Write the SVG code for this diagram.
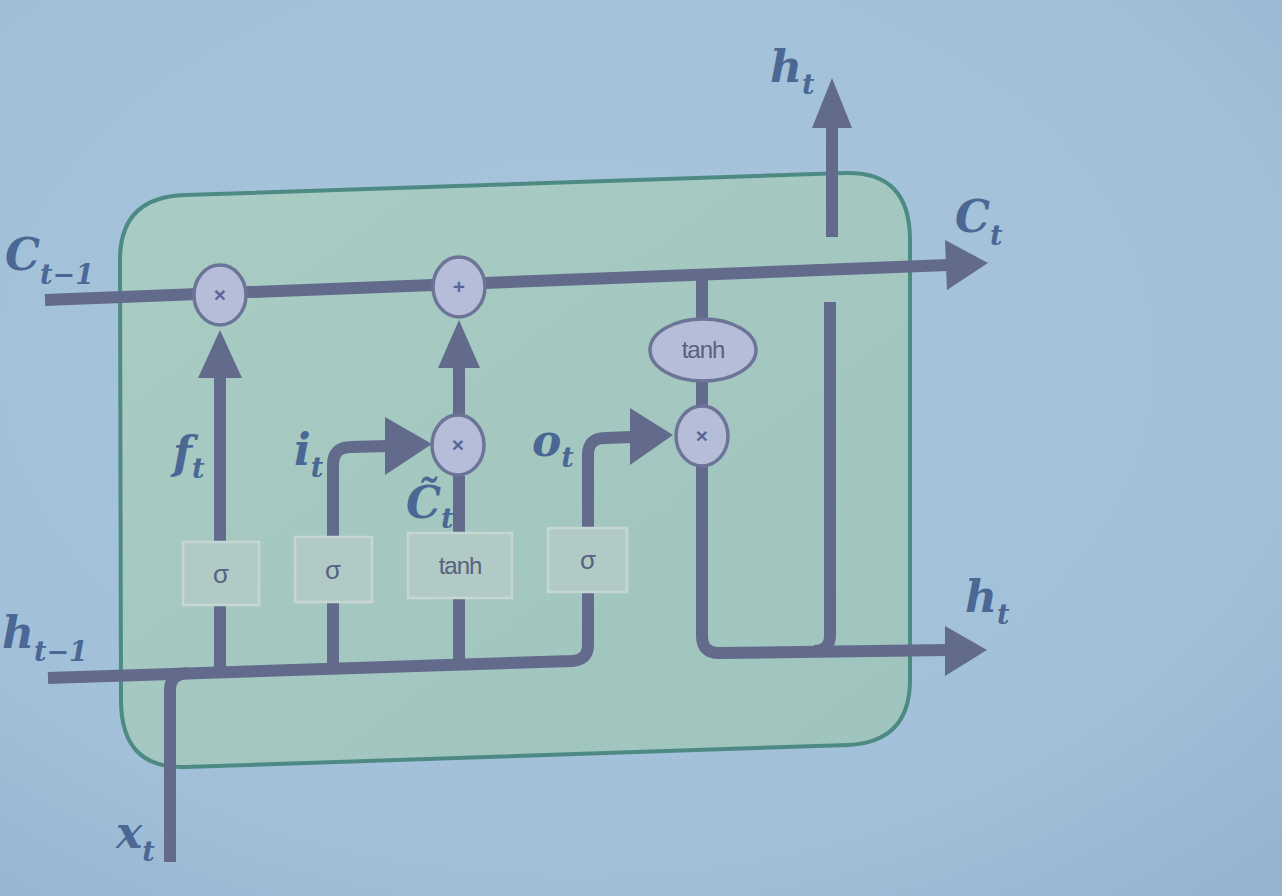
<svg xmlns="http://www.w3.org/2000/svg" width="1282" height="896" viewBox="0 0 1282 896">
<defs>
<radialGradient id="bg" cx="0.45" cy="0.4" r="0.8">
<stop offset="0" stop-color="#a8c5dc"/>
<stop offset="0.7" stop-color="#a2c0d9"/>
<stop offset="1" stop-color="#95b2cf"/>
</radialGradient>
<linearGradient id="cell" x1="0" y1="0" x2="1" y2="1">
<stop offset="0" stop-color="#a9ccc3"/>
<stop offset="1" stop-color="#9fc4be"/>
</linearGradient>
<style>
.ln{fill:none;stroke:#636b8c;stroke-width:12;stroke-linecap:butt;stroke-linejoin:round}
.ah{fill:#636b8c}
.op{fill:#b5bdd8;stroke:#6c7597;stroke-width:3.5}
.op-t{font-family:"Liberation Sans",Arial,sans-serif;font-size:21px;font-weight:bold;fill:#5a6699;text-anchor:middle}
.gate{fill:#b2cac6;stroke:#c6d6d3;stroke-width:2.5}
.gate-t{font-family:"Liberation Sans",Arial,sans-serif;font-size:26px;fill:#58627f;text-anchor:middle}
.tanh-t{font-family:"Liberation Sans",Arial,sans-serif;font-size:24px;fill:#58627f;text-anchor:middle;letter-spacing:-1px}
.lbl{font-family:"DejaVu Serif","Liberation Serif",serif;font-style:italic;font-weight:bold;font-size:44px;fill:#4b6894}
.sub{font-size:27px}
</style>
</defs>
<rect width="1282" height="896" fill="url(#bg)"/>

<g id="cell-box">
<path d="M185,195 L845,173 Q910,171 910,240 L910,680 Q910,742 848,745 L185,767 Q121,769 121,700 L120,262 Q119,197 185,195 Z" fill="url(#cell)" stroke="#4e8a84" stroke-width="4"/>
</g>

<g id="connectors">
<path class="ln" d="M45,300 L948,265"/>
<polygon class="ah" points="945,240 988,263 947,290"/>
<path class="ln" d="M48,678 L572,661 Q588,660 588,645 L588,592"/>
<path class="ln" d="M170,862 L170,690 Q170,674 188,673"/>
<path class="ln" d="M220,672 L220,605"/>
<path class="ln" d="M220,542 L220,374"/>
<polygon class="ah" points="198,378 220,330 242,378"/>
<path class="ln" d="M333,669 L333,602"/>
<path class="ln" d="M333,537 L333,465 Q333,447 351,447 L388,446"/>
<polygon class="ah" points="385,417 432,444 385,475"/>
<path class="ln" d="M459,664 L459,598"/>
<path class="ln" d="M459,533 L459,476"/>
<path class="ln" d="M459,414 L459,364"/>
<polygon class="ah" points="438,368 459,320 480,368"/>
<path class="ln" d="M588,528 L588,455 Q588,438 605,438 L632,437"/>
<polygon class="ah" points="630,408 673,435 630,465"/>
<path class="ln" d="M702,274 L702,320"/>
<path class="ln" d="M702,380 L702,406"/>
<path class="ln" d="M702,466 L702,636 Q702,653 719,653 L948,650"/>
<polygon class="ah" points="945,626 987,650 945,676"/>
<path class="ln" d="M830,302 L830,635 Q830,651 814,651"/>
<path class="ln" d="M832,237 L832,124"/>
<polygon class="ah" points="812,128 832,78 852,128"/>
</g>

<g id="op-forget">
<ellipse class="op" cx="220" cy="295" rx="26" ry="30"/>
<text class="op-t" x="220" y="302">×</text>
</g>
<g id="op-add">
<ellipse class="op" cx="459" cy="287" rx="26" ry="30"/>
<text class="op-t" x="459" y="294">+</text>
</g>
<g id="op-input">
<ellipse class="op" cx="458" cy="445" rx="26" ry="30"/>
<text class="op-t" x="458" y="452">×</text>
</g>
<g id="op-output">
<ellipse class="op" cx="702" cy="436" rx="26" ry="30"/>
<text class="op-t" x="702" y="443">×</text>
</g>
<g id="op-tanh">
<ellipse class="op" cx="703" cy="350" rx="53" ry="31"/>
<text class="tanh-t" x="703" y="358">tanh</text>
</g>

<g id="gate-f">
<rect class="gate" x="183" y="542" width="76" height="63"/>
<text class="gate-t" x="221" y="583">σ</text>
</g>
<g id="gate-i">
<rect class="gate" x="295" y="537" width="77" height="65"/>
<text class="gate-t" x="333" y="579">σ</text>
</g>
<g id="gate-c">
<rect class="gate" x="408" y="533" width="104" height="65"/>
<text class="tanh-t" x="460" y="574">tanh</text>
</g>
<g id="gate-o">
<rect class="gate" x="548" y="528" width="79" height="64"/>
<text class="gate-t" x="588" y="569">σ</text>
</g>

<g id="labels">
<text class="lbl" x="5" y="270">C<tspan class="sub" dy="14">t−1</tspan></text>
<text class="lbl" x="2" y="648">h<tspan class="sub" dy="13">t−1</tspan></text>
<text class="lbl" x="116" y="848">x<tspan class="sub" dy="13">t</tspan></text>
<text class="lbl" x="173" y="468">f<tspan class="sub" dy="10">t</tspan></text>
<text class="lbl" x="294" y="465">i<tspan class="sub" dy="12">t</tspan></text>
<text class="lbl" x="406" y="518">C̃<tspan class="sub" dy="10">t</tspan></text>
<text class="lbl" x="532" y="456">o<tspan class="sub" dy="11">t</tspan></text>
<text class="lbl" x="770" y="82">h<tspan class="sub" dy="12">t</tspan></text>
<text class="lbl" x="955" y="232">C<tspan class="sub" dy="13">t</tspan></text>
<text class="lbl" x="965" y="612">h<tspan class="sub" dy="12">t</tspan></text>
</g>
</svg>
